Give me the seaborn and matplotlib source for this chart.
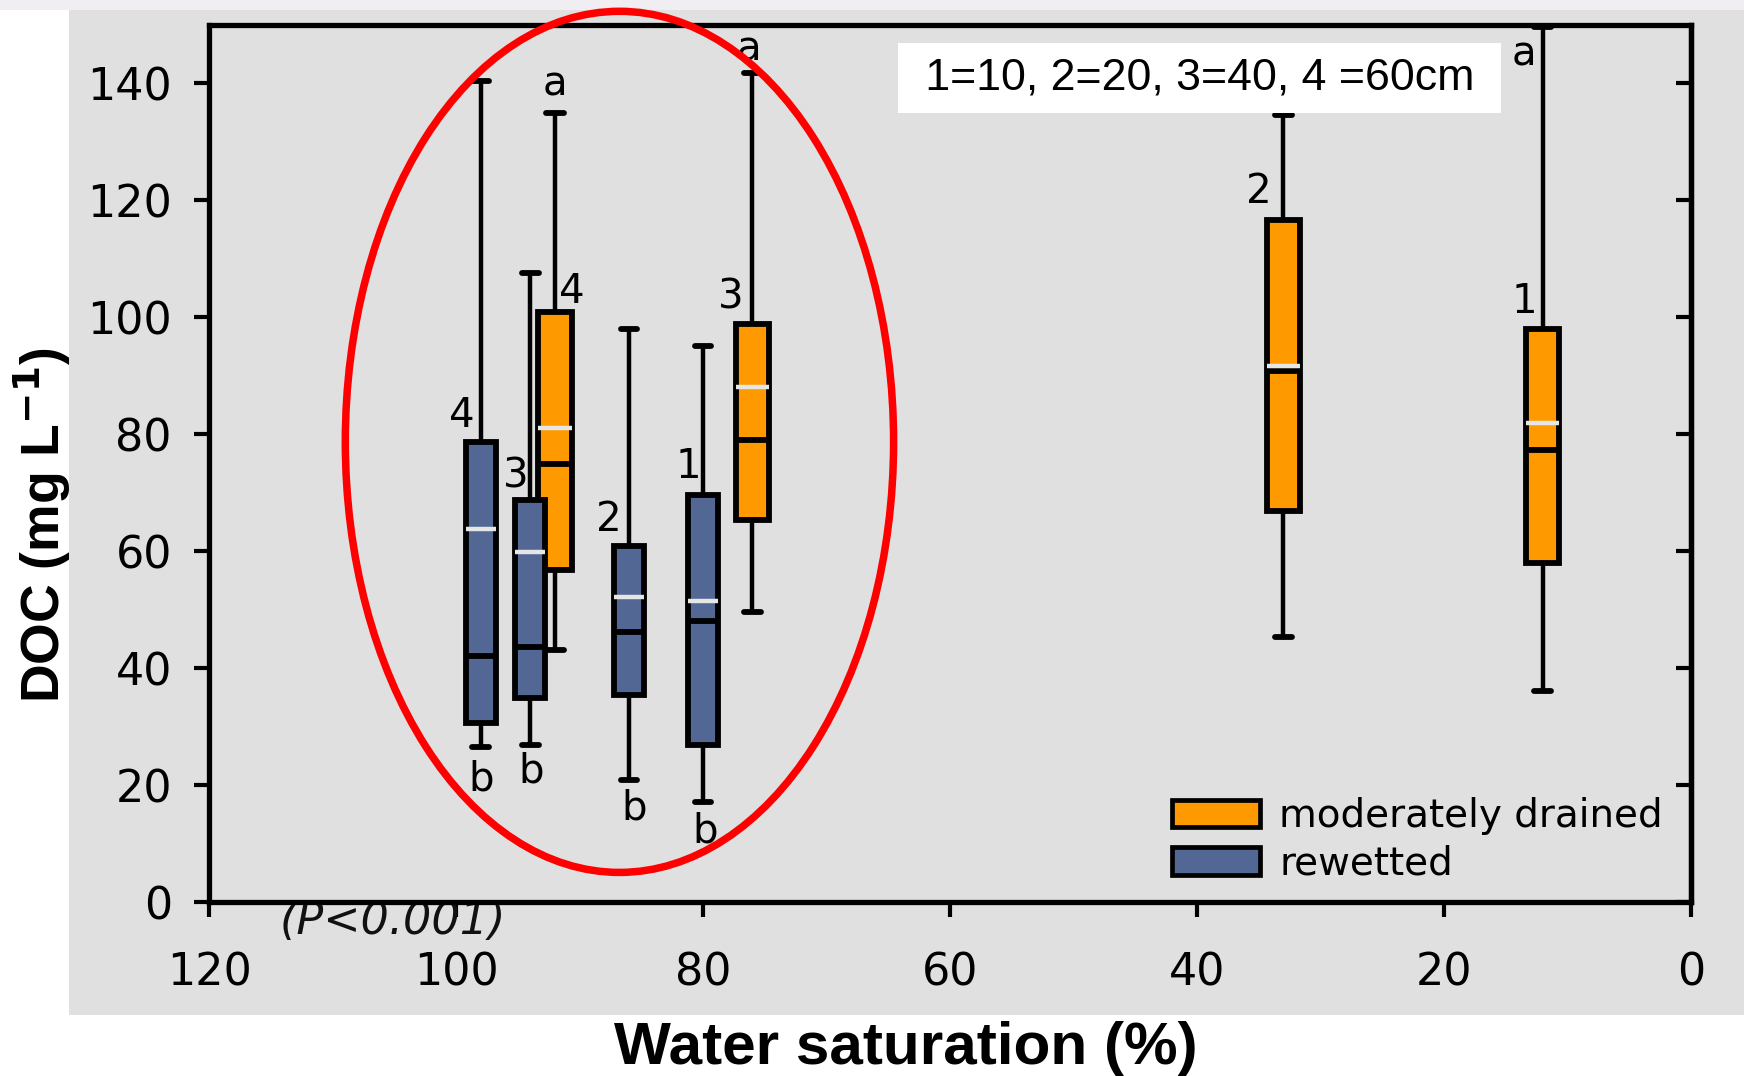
import matplotlib
matplotlib.use("Agg")
import matplotlib.pyplot as plt
from matplotlib.patches import Patch, Rectangle, Ellipse
import seaborn as sns

# ---------------- data ----------------
rewetted_x = [98, 94, 86, 80]
rewetted_depth = ["4", "3", "2", "1"]
rewetted_whislo = [26.5, 26.8, 20.9, 17.1]
rewetted_q1 = [30.6, 34.8, 35.4, 26.8]
rewetted_med = [42.1, 43.6, 46.2, 48.0]
rewetted_mean = [63.7, 59.8, 52.1, 51.4]
rewetted_q3 = [78.6, 68.7, 60.9, 69.5]
rewetted_whishi = [140.4, 107.5, 98.0, 95.0]

drained_x = [92, 76, 33, 12]
drained_depth = ["4", "3", "2", "1"]
drained_whislo = [43.0, 49.5, 45.3, 36.0]
drained_q1 = [56.7, 65.3, 66.8, 58.0]
drained_med = [74.8, 79.0, 90.8, 77.3]
drained_mean = [81.1, 88.1, 91.7, 81.9]
drained_q3 = [100.9, 98.8, 116.6, 98.0]
drained_whishi = [134.9, 141.8, 134.5, 149.5]

# depth-number label positions (x, y)
depth_lab_rew_xy = [(99.5, 83.1), (95.15, 72.8), (87.6, 65.3), (81.2, 74.3)]
depth_lab_dr_xy = [(90.6, 104.2), (77.75, 103.4), (35.0, 121.3), (13.5, 102.6)]
# significance letters
sig_letters = ["a", "a", "a", "b", "b", "b", "b"]
sig_xy = [(92.0, 139.7), (76.3, 145.8), (13.5, 144.8),
          (98.0, 21.0), (93.9, 22.3), (85.6, 15.9), (79.8, 12.0)]

x_ticks = [120, 100, 80, 60, 40, 20, 0]
y_ticks = [0, 20, 40, 60, 80, 100, 120, 140]

legend_labels = ["moderately drained", "rewetted"]
note_text = "1=10, 2=20, 3=40, 4 =60cm"
p_text = "(P<0.001)"
xlabel = "Water saturation (%)"
ylabel = "DOC (mg L$^{\\mathbf{-1}}$)"

# ---------------- style ----------------
sns.set_style("white")
plt.rcParams["font.family"] = ["DejaVu Sans"]
plt.rcParams["mathtext.default"] = "regular"
plt.rcParams["text.color"] = "black"
plt.rcParams["axes.labelcolor"] = "black"
plt.rcParams["xtick.color"] = "black"
plt.rcParams["ytick.color"] = "black"

orange = "#ff9900"
blue = "#536794"
gray_bg = "#e0e0e0"

fig = plt.figure(figsize=(17.44, 10.76), dpi=100)
fig.patch.set_facecolor("white")
fig.add_artist(Rectangle((0.0396, 0.0567), 0.9604, 0.934, transform=fig.transFigure,
                         facecolor=gray_bg, edgecolor="none", zorder=-10))
fig.add_artist(Rectangle((0, 0.9907), 1, 0.0093, transform=fig.transFigure,
                         facecolor="#f0edf3", edgecolor="none", zorder=-10))

ax = fig.add_axes([0.1199, 0.1617, 0.8497, 0.8155])
ax.set_facecolor(gray_bg)


def make_stats(lo, q1, med, mean, q3, hi):
    return [dict(whislo=a, q1=b, med=c, mean=d, q3=e, whishi=f, fliers=[])
            for a, b, c, d, e, f in zip(lo, q1, med, mean, q3, hi)]


def draw(stats, xs, color, width, capw):
    ax.bxp(stats, positions=xs, widths=width, capwidths=capw, patch_artist=True,
           showmeans=True, meanline=True, showfliers=False, manage_ticks=False,
           boxprops=dict(facecolor=color, edgecolor="black", linewidth=4.2),
           medianprops=dict(color="black", linewidth=4.2),
           meanprops=dict(color="#e6e6e6", linewidth=3.2, linestyle="-"),
           whiskerprops=dict(color="black", linewidth=3.2),
           capprops=dict(color="black", linewidth=4.2))


draw(make_stats(drained_whislo, drained_q1, drained_med, drained_mean,
                drained_q3, drained_whishi), drained_x, orange, 2.7, 1.4)
draw(make_stats(rewetted_whislo, rewetted_q1, rewetted_med, rewetted_mean,
                rewetted_q3, rewetted_whishi), rewetted_x, blue, 2.4, 1.35)

ax.set_xlim(120, 0)
ax.set_ylim(0, 150)
ax.set_xticks(x_ticks)
ax.set_yticks(y_ticks)
ax.set_xticklabels([str(t) for t in x_ticks])
ax.set_yticklabels([str(t) for t in y_ticks])
ax.tick_params(axis="x", direction="out", length=10.8, width=3, pad=25, labelsize=32,
               bottom=True, top=False)
ax.tick_params(axis="y", direction="out", length=10.8, width=3, pad=16, labelsize=32,
               left=True, right=False)
for s in ax.spines.values():
    s.set_visible(True)
    s.set_linewidth(3.8)
    s.set_color("black")

sec = ax.secondary_yaxis("right")
sec.set_yticks(y_ticks)
sec.tick_params(direction="in", length=10.8, width=3, labelright=False)
sec.spines["right"].set_linewidth(3.8)

# labels for depth numbers and letters
for (x, y), t in zip(depth_lab_rew_xy, rewetted_depth):
    ax.text(x, y, t, ha="center", va="center", fontsize=29, zorder=6)
for (x, y), t in zip(depth_lab_dr_xy, drained_depth):
    ax.text(x, y, t, ha="center", va="center", fontsize=29, zorder=6)
for (x, y), t in zip(sig_xy, sig_letters):
    ax.text(x, y, t, ha="center", va="center", fontsize=29, zorder=6)

ax.text(39.8, 140.9, " " + note_text + " ", ha="center", va="center",
        fontsize=32.2, family=["Liberation Sans", "DejaVu Sans"], zorder=7,
        bbox=dict(boxstyle="square,pad=0.32", facecolor="white", edgecolor="none"))

ax.text(105.1, -3.3, p_text, ha="center", va="center", fontsize=32, style="italic",
        color="#111111", clip_on=False, zorder=1)

ax.add_patch(Ellipse((86.77, 78.66), 44.4, 147.2, fill=False, edgecolor="#ff0000",
                     linewidth=5.4, clip_on=False, zorder=10))

handles = [Patch(facecolor=orange, edgecolor="black", linewidth=3.4),
           Patch(facecolor=blue, edgecolor="black", linewidth=3.4)]
ax.legend(handles, legend_labels, loc="lower right", bbox_to_anchor=(0.981, 0.022),
          frameon=False, fontsize=28, handlelength=2.25, handleheight=0.72,
          handletextpad=0.5, labelspacing=0.25, borderpad=0, borderaxespad=0)

ax.set_xlabel(xlabel, fontsize=43.4, fontweight="bold",
              family=["Liberation Sans", "DejaVu Sans"])
ax.xaxis.set_label_coords(0.470, -0.136)
ax.xaxis.label.set_va("top")
ax.set_ylabel(ylabel, fontsize=38.5, fontweight="bold",
              family=["Liberation Sans", "DejaVu Sans"])
ax.yaxis.set_label_coords(-0.092, 0.43)

fig.savefig("out.png", dpi=100, facecolor=fig.get_facecolor())
